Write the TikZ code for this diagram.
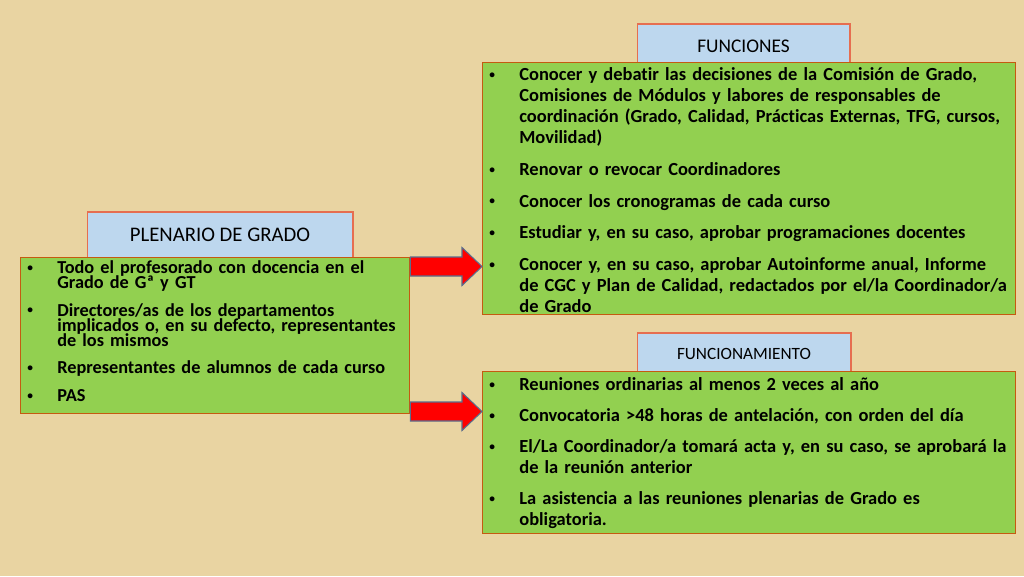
\documentclass[tikz,border=0pt]{standalone}
\usepackage{fontspec}
\setmainfont{Carlito}[Ligatures=CommonOff]
\usetikzlibrary{positioning,calc}
\definecolor{paper}{RGB}{233,212,162}
\definecolor{boxgreen}{RGB}{146,208,80}
\definecolor{boxedge}{RGB}{197,90,17}
\definecolor{titleblue}{RGB}{189,215,238}
\definecolor{titleedge}{RGB}{230,110,80}
\definecolor{arrowred}{RGB}{255,0,0}
\definecolor{arrowedge}{RGB}{90,110,140}

\newcommand\bul[1]{\par\hangindent=0.62cm\hangafter=1\noindent
  \makebox[0.62cm][l]{\hspace{0.02cm}\raisebox{1.3pt}{\fontsize{6.5}{6.5}\selectfont\textbullet}}#1\par}
\newcommand\blockarrow[2]{\draw[redarrow] ($(#1)+(0,-9.5)$) -- ($(#2)+(-20,-9.5)$) -- ($(#2)+(-20,-19)$) -- (#2)
  -- ($(#2)+(-20,19)$) -- ($(#2)+(-20,9.5)$) -- ($(#1)+(0,9.5)$) -- cycle;}

\begin{document}
\begin{tikzpicture}[x=0.02cm,y=-0.02cm,
    title/.style={draw=titleedge,fill=titleblue,line width=0.6pt,inner sep=0pt},
    box/.style={draw=boxedge,fill=boxgreen,line width=0.8pt,inner sep=0pt,anchor=north west},
    txt/.style={inner sep=0pt,align=left,anchor=north west,font=\bfseries\fontsize{10.5}{11.9}\selectfont},
    redarrow/.style={fill=arrowred,draw=arrowedge,line width=0.6pt}]
    \fill[paper] (0,0) rectangle (1024,576);
    \useasboundingbox (0,0) rectangle (1024,576);

    \node[title,minimum width=5.32cm,minimum height=0.92cm,font=\fontsize{11.8}{14}\selectfont] (tplen) at (220,235) {PLENARIO DE GRADO};
    \node[title,minimum width=4.26cm,minimum height=0.88cm,font=\fontsize{11}{13}\selectfont] (tfun) at (743.5,46) {FUNCIONES};
    \node[title,minimum width=4.28cm,minimum height=0.84cm,font=\fontsize{9.8}{12}\selectfont] (tmto) at (744,354) {FUNCIONAMIENTO};

    \node[box,minimum width=7.78cm,minimum height=3.12cm] (plen) at (20,257) {};
    \node[box,minimum width=10.66cm,minimum height=5.04cm] (fun) at (482,62) {};
    \node[box,minimum width=10.66cm,minimum height=3.24cm] (mto) at (482,371) {};

    \node[txt,text width=7.7cm,font=\bfseries\fontsize{10.4}{8.5}\selectfont,
        execute at begin node={\setlength\parskip{0.26cm}\setlength\lineskiplimit{-6pt}}] (plentxt) at ($(plen.north west)+(6,-12)$) {%
        \bul{Todo el profesorado con docencia en el\newline Grado de Gª y GT}
        \bul{Directores/as de los departamentos\newline implicados o, en su defecto, representantes\newline de los mismos}
        \bul{Representantes de alumnos de cada curso}
        \bul{PAS}};

    \node[txt,text width=10.6cm,execute at begin node=\setlength\parskip{0.217cm}] (funtxt) at ($(fun.north west)+(6,-13.3)$) {%
        \bul{Conocer y debatir las decisiones de la Comisión de Grado,\newline Comisiones de Módulos y labores de responsables de\newline coordinación (Grado, Calidad, Prácticas Externas, TFG, cursos,\newline Movilidad)}
        \bul{Renovar o revocar Coordinadores}
        \bul{Conocer los cronogramas de cada curso}
        \bul{Estudiar y, en su caso, aprobar programaciones docentes}
        \bul{Conocer y, en su caso, aprobar Autoinforme anual, Informe\newline de CGC y Plan de Calidad, redactados por el/la Coordinador/a\newline de Grado}};

    \node[txt,text width=10.6cm,execute at begin node=\setlength\parskip{0.205cm}] (mtotxt) at ($(mto.north west)+(6,-12)$) {%
        \bul{Reuniones ordinarias al menos 2 veces al año}
        \bul{Convocatoria >48 horas de antelación, con orden del día}
        \bul{El/La Coordinador/a tomará acta y, en su caso, se aprobará la\newline de la reunión anterior}
        \bul{La asistencia a las reuniones plenarias de Grado es\newline obligatoria.}};

    \coordinate (a1) at (plen.east |- 0,266.5);
    \coordinate (b1) at (fun.west |- 0,266.5);
    \coordinate (a2) at (plen.east |- 0,411.5);
    \coordinate (b2) at (mto.west |- 0,411.5);
    \blockarrow{a1}{b1}
    \blockarrow{a2}{b2}
\end{tikzpicture}
\end{document}
